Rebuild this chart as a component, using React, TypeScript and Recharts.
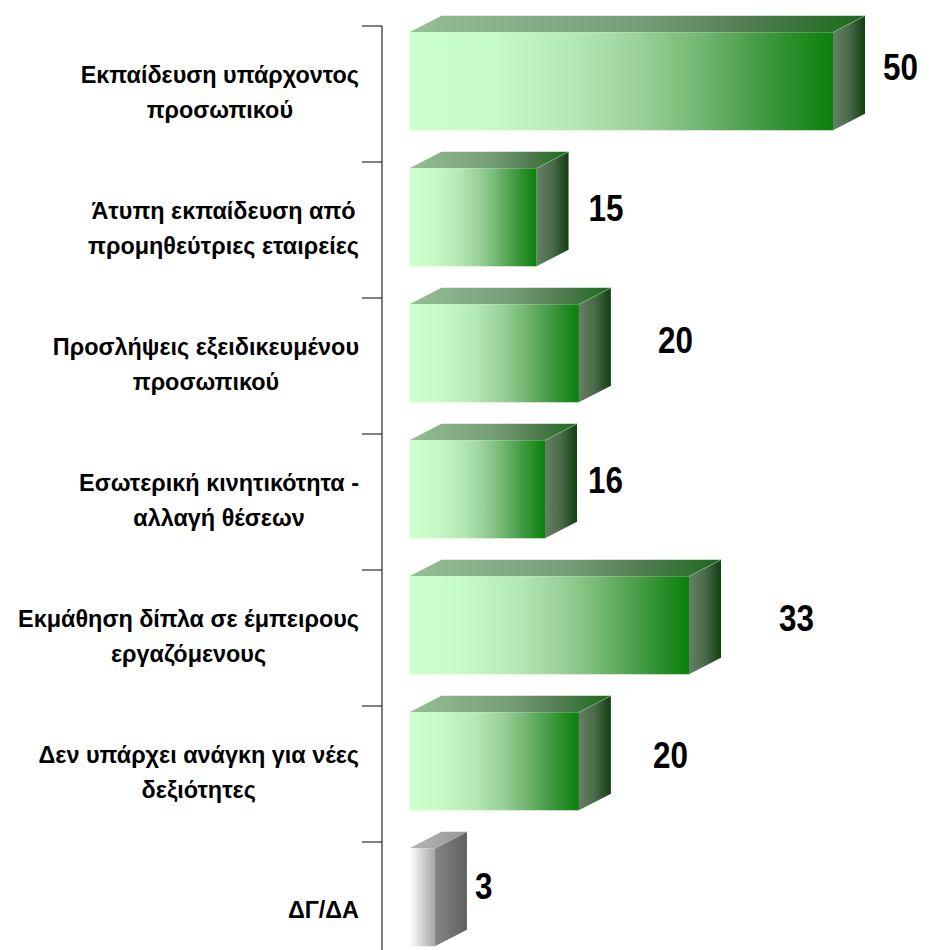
import React from "react";
import { BarChart, Bar, XAxis, YAxis, LabelList } from "recharts";

const categories: string[] = [
  "Εκπαίδευση υπάρχοντος\nπροσωπικού",
  "Άτυπη εκπαίδευση από\nπρομηθεύτριες εταιρείες",
  "Προσλήψεις εξειδικευμένου\nπροσωπικού",
  "Εσωτερική κινητικότητα -\nαλλαγή θέσεων",
  "Εκμάθηση δίπλα σε έμπειρους\nεργαζόμενους",
  "Δεν υπάρχει ανάγκη για νέες\nδεξιότητες",
  "ΔΓ/ΔΑ",
];
const values: number[] = [50, 15, 20, 16, 33, 20, 3];
const greyCategories: string[] = ["ΔΓ/ΔΑ"];

// layout (not data)
const CHART_W = 926;
const CHART_H = 970;
const MT = 18;
const MB = 0;
const MR = 101;
const YAXIS_W = 374;
const BAND = (CHART_H - MT - MB) / categories.length;
const BAR_SIZE = 98;
const BAR_SHIFT = -12.7;
const DX = 32;
const DY = 16.5;
const LABEL_NUDGE_X = [18, 20, 47, 11, 58, 42, 8];
const LABEL_NUDGE_Y = [-14.5, -9.5, -13.7, -10, -8.3, -7, -11.5];
const CAT_FONT_SIZE = 23.4;
const CAT_FONT = "'Liberation Sans', Arial, sans-serif";

const data = categories.map((c, i) => ({ name: c, value: values[i] }));

const GREEN = {
  front: [
    [0, "#CCFFCC"],
    [0.2, "#C6F9C6"],
    [0.4, "#B2E6B2"],
    [0.55, "#98D098"],
    [0.7, "#6EB46E"],
    [0.85, "#3C963C"],
    [1, "#0A800A"],
  ],
  top: [
    [0, "#95BE95"],
    [0.5, "#779F77"],
    [0.75, "#517C51"],
    [1, "#1A6A1A"],
  ],
  side: [
    [0, "#667F66"],
    [0.5, "#4A6A4A"],
    [1, "#123F12"],
  ],
  edge: "#8CC28C",
};
const GREY = {
  front: [
    [0, "#FFFFFF"],
    [1, "#A6A6A6"],
  ],
  top: [
    [0, "#B4B4B4"],
    [1, "#979797"],
  ],
  side: [
    [0, "#858585"],
    [1, "#606060"],
  ],
  edge: "#B8B8B8",
};

let measureCtx: CanvasRenderingContext2D | null = null;
function textWidth(s: string): number {
  try {
    if (!measureCtx) measureCtx = document.createElement("canvas").getContext("2d");
    if (measureCtx) {
      measureCtx.font = `bold ${CAT_FONT_SIZE}px ${CAT_FONT}`;
      return measureCtx.measureText(s).width;
    }
  } catch (e) {}
  return s.length * CAT_FONT_SIZE * 0.55;
}

const Grad = ({ id, stops }: { id: string; stops: (string | number)[][] }) => (
  <linearGradient id={id} x1="0" y1="0" x2="1" y2="0">
    {stops.map((s, k) => (
      <stop key={k} offset={s[0] as number} stopColor={s[1] as string} />
    ))}
  </linearGradient>
);

const Bar3D = (props: any) => {
  const { x, y: y0, width: w, height: h, index, payload } = props;
  const y = y0 + BAR_SHIFT;
  const pal = greyCategories.includes(payload?.name) ? GREY : GREEN;
  const id = `b3d${index}`;
  return (
    <g>
      <defs>
        <Grad id={`${id}f`} stops={pal.front as any} />
        <Grad id={`${id}t`} stops={pal.top as any} />
        <Grad id={`${id}s`} stops={pal.side as any} />
      </defs>
      <polygon
        points={`${x},${y} ${x + DX},${y - DY} ${x + w + DX},${y - DY} ${x + w},${y}`}
        fill={`url(#${id}t)`}
      />
      <polygon
        points={`${x + w},${y} ${x + w + DX},${y - DY} ${x + w + DX},${y + h - DY} ${x + w},${y + h}`}
        fill={`url(#${id}s)`}
      />
      <rect x={x} y={y} width={w} height={h} fill={`url(#${id}f)`} />
      <polyline
        points={`${x + w},${y} ${x + w + DX},${y - DY}`}
        fill="none"
        stroke={pal.edge}
        strokeWidth={0.7}
        strokeOpacity={0.8}
      />
    </g>
  );
};

const ValueLabel = (props: any) => {
  const { x, y, width, height, value, index } = props;
  const lx = x + width + DX + LABEL_NUDGE_X[index];
  const cy = y + BAR_SHIFT + height / 2 + LABEL_NUDGE_Y[index];
  return (
    <text
      x={0}
      y={0}
      transform={`translate(${lx},${cy + 13.5}) scale(0.85,1)`}
      fontFamily="'Liberation Sans', Arial, sans-serif"
      fontWeight="bold"
      fontSize={37}
      fill="#000"
    >
      {value}
    </text>
  );
};

const CategoryTick = (props: any) => {
  const { y, payload } = props;
  const lines = String(payload.value).split("\n");
  const right = YAXIS_W - 23;
  const maxW = Math.max(...lines.map(textWidth));
  const cx = right - maxW / 2;
  const top = y - BAND / 2;
  const baselines = lines.length === 1 ? [y + 8] : [y - 11, y + 24];
  return (
    <g>
      <line x1={YAXIS_W - 20} y1={top} x2={YAXIS_W} y2={top} stroke="#000" strokeWidth={1} />
      <text
        textAnchor="middle"
        fontFamily={CAT_FONT}
        fontWeight="bold"
        fontSize={CAT_FONT_SIZE}
        fill="#000"
      >
        {lines.map((l, k) => (
          <tspan key={k} x={cx} y={baselines[k]}>
            {l}
          </tspan>
        ))}
      </text>
    </g>
  );
};

export default function App() {
  return (
    <div style={{ width: CHART_W, height: CHART_H }}>
      <style>{`body{overflow:hidden;background:#fff}`}</style>
      <BarChart
        width={CHART_W}
        height={CHART_H}
        data={data}
        layout="vertical"
        margin={{ top: MT, right: MR, bottom: MB, left: 0 }}
        barCategoryGap={0}
      >
        <XAxis type="number" domain={[0, 50]} hide padding={{ left: 27.5, right: 0 }} />
        <YAxis
          type="category"
          dataKey="name"
          width={YAXIS_W}
          axisLine={{ stroke: "#000", strokeWidth: 1 }}
          tickLine={false}
          tick={<CategoryTick />}
          interval={0}
        />
        <Bar
          dataKey="value"
          barSize={BAR_SIZE}
          shape={<Bar3D />}
          isAnimationActive={false}
        >
          <LabelList dataKey="value" content={<ValueLabel />} />
        </Bar>
      </BarChart>
    </div>
  );
}
